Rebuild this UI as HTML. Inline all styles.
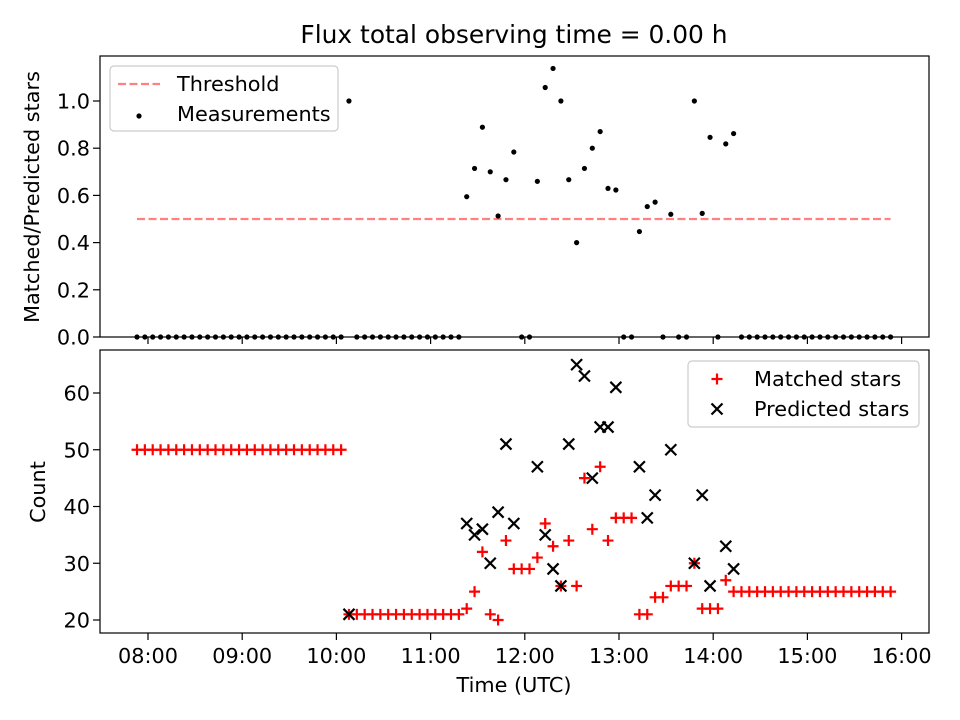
<!DOCTYPE html>
<html><head><meta charset="utf-8"><style>
html,body{margin:0;padding:0;background:#fff;}
svg{display:block;font-family:"DejaVu Sans","Liberation Sans",sans-serif;}
</style></head><body>
<svg id="chart" width="960" height="720" viewBox="0 0 960 720">
<rect x="0" y="0" width="960" height="720" fill="#fff"/>
<text x="514" y="43" font-size="24.9" text-anchor="middle">Flux total observing time = 0.00 h</text>
<g id="topAx"></g>
<g id="botAx"></g>
</svg>
<script>
const timesMin=[473,478,483,488,493,498,503,508,513,518,523,528,533,538,543,548,553,558,563,568,573,578,583,588,593,598,603,608,613,618,623,628,633,638,643,648,653,658,663,668,673,678,683,688,693,698,703,708,713,718,723,728,733,738,743,748,753,758,763,768,773,778,783,788,793,798,803,808,813,818,823,828,833,838,843,848,853,858,863,868,873,878,883,888,893,898,903,908,913,918,923,928,933,938,943,948,953];
const matched=[50,50,50,50,50,50,50,50,50,50,50,50,50,50,50,50,50,50,50,50,50,50,50,50,50,50,50,
21,21,21,21,21,21,21,21,21,21,21,21,21,21,21,
22,25,32,21,20,34,29,29,29,31,37,33,26,34,26,45,36,47,34,38,38,38,21,21,24,24,26,26,26,30,22,22,22,27,25,
25,25,25,25,25,25,25,25,25,25,25,25,25,25,25,25,25,25,25,25];
const predicted=[null,null,null,null,null,null,null,null,null,null,null,null,null,null,null,null,null,null,null,null,null,null,null,null,null,null,null,
21,null,null,null,null,null,null,null,null,null,null,null,null,null,null,
37,35,36,30,39,51,37,null,null,47,35,29,26,51,65,63,45,54,54,61,null,null,47,38,42,null,50,null,null,30,42,26,null,33,29,
null,null,null,null,null,null,null,null,null,null,null,null,null,null,null,null,null,null,null,null];
const threshold=0.5;
const xTickLabels=["08:00","09:00","10:00","11:00","12:00","13:00","14:00","15:00","16:00"];
const xTickMin=[480,540,600,660,720,780,840,900,960];
const topTicks=[0.0,0.2,0.4,0.6,0.8,1.0];
const botTicks=[20,30,40,50,60];

const NS="http://www.w3.org/2000/svg";
const L=100,R=929,T1=56,B1=337,T2=350,B2=633,FS=20.8;
function xs(m){return 148+(m-480)*94.2/60;}
function y1(v){return 337-v*236;}
function y2(v){return 620-(v-20)*5.675;}
function mk(tag,attrs,parent){const e=document.createElementNS(NS,tag);for(const k in attrs)e.setAttribute(k,attrs[k]);parent.appendChild(e);return e;}
const gTop=document.getElementById('topAx'),gBot=document.getElementById('botAx');

let f=mk('rect',{x:L,y:T1,width:R-L,height:B1-T1,fill:'none',stroke:'#000','stroke-width':1.2},gTop);


f=mk('rect',{x:L,y:T2,width:R-L,height:B2-T2,fill:'none',stroke:'#000','stroke-width':1.2},gBot);



xTickMin.forEach((m,i)=>{
  const x=xs(m);
  mk('line',{x1:x,x2:x,y1:B1,y2:B1+7,stroke:'#000','stroke-width':1.2},gTop);
  mk('line',{x1:x,x2:x,y1:B2,y2:B2+7,stroke:'#000','stroke-width':1.2},gBot);
  const t=mk('text',{x:x,y:663,'font-size':FS,'text-anchor':'middle'},gBot);
  t.textContent=xTickLabels[i];
  
  
});
topTicks.forEach(v=>{
  const y=y1(v);
  mk('line',{x1:L-7,x2:L,y1:y,y2:y,stroke:'#000','stroke-width':1.2},gTop);
  const t=mk('text',{x:L-10,y:y+7.5,'font-size':FS,'text-anchor':'end'},gTop);
  t.textContent=v.toFixed(1);
  
  
});
botTicks.forEach(v=>{
  const y=y2(v);
  mk('line',{x1:L-7,x2:L,y1:y,y2:y,stroke:'#000','stroke-width':1.2},gBot);
  const t=mk('text',{x:L-10,y:y+7.5,'font-size':FS,'text-anchor':'end'},gBot);
  t.textContent=String(v);
  
  
});
let a=mk('text',{x:0,y:0,'font-size':FS,'text-anchor':'middle',transform:'translate(39,197) rotate(-90)'},gTop);
a.textContent='Matched/Predicted stars';


a=mk('text',{x:0,y:0,'font-size':FS,'text-anchor':'middle',transform:'translate(45,492) rotate(-90)'},gBot);
a.textContent='Count';


a=mk('text',{x:514,y:692,'font-size':FS,'text-anchor':'middle'},gBot);
a.textContent='Time (UTC)';



const th=mk('line',{x1:xs(timesMin[0]),x2:xs(timesMin[timesMin.length-1]),y1:y1(threshold),y2:y1(threshold),stroke:'#ff8080','stroke-width':2.2,'stroke-dasharray':'8,3.5'},gTop);



timesMin.forEach((m,i)=>{
  const p=predicted[i];
  const v=p?matched[i]/p:0;
  const c=mk('circle',{cx:xs(m),cy:y1(v),r:2.6,fill:'#000'},gTop);
  
  
});
timesMin.forEach((m,i)=>{
  const x=xs(m),y=y2(matched[i]);
  const g=mk('path',{d:`M${x-5.5},${y}H${x+5.5}M${x},${y-5.5}V${y+5.5}`,stroke:'#f00','stroke-width':2.2,fill:'none'},gBot);
  
  
});
timesMin.forEach((m,i)=>{
  if(predicted[i]==null)return;
  const x=xs(m),y=y2(predicted[i]);
  const g=mk('path',{d:`M${x-5.5},${y-5.5}L${x+5.5},${y+5.5}M${x-5.5},${y+5.5}L${x+5.5},${y-5.5}`,stroke:'#000','stroke-width':2.2,fill:'none'},gBot);
  
  
});

let lg=mk('g',{},gTop);


mk('rect',{x:110,y:66,width:228,height:65,rx:4,fill:'#fff','fill-opacity':0.8,stroke:'#ccc','stroke-width':1.2},lg);
mk('line',{x1:118,x2:160,y1:84,y2:84,stroke:'#ff8080','stroke-width':2.2,'stroke-dasharray':'8,3.5'},lg);
mk('circle',{cx:139,cy:116,r:2.6,fill:'#000'},lg);
let t=mk('text',{x:177,y:91,'font-size':FS},lg);t.textContent='Threshold';
t=mk('text',{x:177,y:121,'font-size':FS},lg);t.textContent='Measurements';
lg=mk('g',{},gBot);


mk('rect',{x:688,y:361,width:231,height:66,rx:4,fill:'#fff','fill-opacity':0.8,stroke:'#ccc','stroke-width':1.2},lg);
mk('path',{d:'M711.5,379H722.5M717,373.5V384.5',stroke:'#f00','stroke-width':2.2},lg);
mk('path',{d:'M711.5,403.5L722.5,414.5M711.5,414.5L722.5,403.5',stroke:'#000','stroke-width':2.2},lg);
t=mk('text',{x:754,y:386,'font-size':FS},lg);t.textContent='Matched stars';
t=mk('text',{x:754,y:416,'font-size':FS},lg);t.textContent='Predicted stars';
</script>
</body></html>
